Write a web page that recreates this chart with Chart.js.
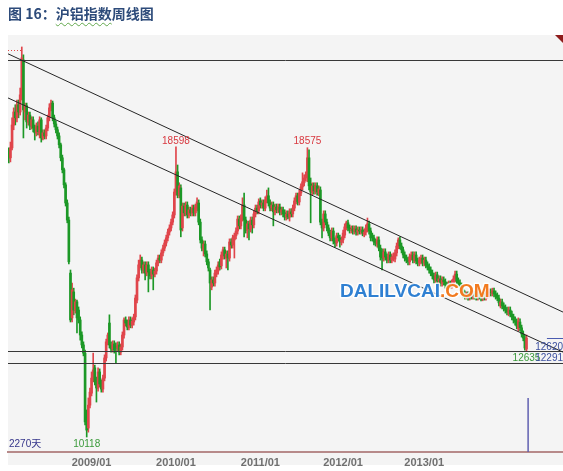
<!DOCTYPE html>
<html>
<head>
<meta charset="utf-8">
<script src="https://cdn.jsdelivr.net/npm/chart.js@4"></script>
<style>
  html, body { margin: 0; padding: 0; background: #ffffff; }
  #wrap { position: relative; width: 563px; height: 471px; overflow: hidden; }
  #c { position: absolute; left: 0; top: 0; }
  #title {
    position: absolute; left: 8px; top: 4px;
    font: 700 14px/18px "Noto Sans CJK SC", sans-serif;
    color: #2d4b7a; white-space: nowrap;
  }
  #title span {
    text-decoration: underline wavy #62a84c;
    text-decoration-thickness: 1px;
    text-underline-offset: 3px;
  }
</style>
</head>
<body>
<div id="wrap">
  <canvas id="c" width="563" height="471"></canvas>
  <div id="title">图 16：<span>沪铝指数</span>周线图</div>
</div>
<script>
// Weekly OHLC of the SHFE aluminium index, one entry per week starting Jan 2008
const weekOpen = [
  18510,18280,18570,19240,19620,19450,19830,19620,20120,21140,
  19620,19800,19330,19530,19210,19390,19150,19010,19210,18950,
  19390,18860,19010,18920,19150,19450,19740,19880,19450,19270,
  19100,18920,18660,18280,17930,17490,16960,16460,14910,13600,
  14360,13830,14070,13830,13540,13100,12810,12570,10670,10380,
  11050,11400,11840,12140,11790,11550,12020,11700,11520,11840,
  12430,12900,13450,12810,12690,12840,12780,12720,12810,12600,
  12750,13100,13540,13450,13330,13540,13390,13480,13630,14120,
  14770,15150,15290,15000,15150,14910,15150,14940,14830,15000,
  14880,14970,15210,15350,15290,15500,15640,15790,15940,16110,
  16230,16400,16610,17280,17870,17190,17400,16230,16870,16670,
  16900,16610,16760,16670,16810,16670,16810,16960,16400,15880,
  15590,15760,15470,15240,15000,14500,14710,14620,14880,14970,
  15240,15120,15410,15590,15350,15470,15350,15820,15730,15880,
  16000,16140,16490,16290,16520,16900,16460,16170,16350,16200,
  16460,16320,16640,16810,16730,17020,16900,16960,16810,17050,
  17170,16960,16810,16900,16700,16840,16760,16840,16700,16760,
  16670,16550,16640,16550,16700,16640,16810,17020,17170,16990,
  17250,17430,17550,17690,17750,18280,17520,17280,17460,17310,
  17460,17250,17340,16400,16230,16640,16400,16230,16080,15940,
  16140,15850,15790,16000,15940,15820,15880,16020,16260,16380,
  16230,16170,16200,16140,16200,16110,16170,16140,16170,16050,
  16110,16200,16350,16140,16000,15940,15820,15760,15880,15640,
  15530,15350,15530,15380,15290,15440,15290,15350,15320,15500,
  15700,15880,15700,15590,15440,15350,15290,15240,15380,15440,
  15290,15440,15260,15210,15260,15350,15210,15290,15150,15090,
  15000,14910,14830,14710,14860,14680,14740,14620,14710,14650,
  14560,14530,14590,14560,14620,14740,14880,14680,14620,14530,
  14420,14300,14240,14270,14210,14270,14240,14300,14240,14210,
  14270,14240,14180,14240,14210,14270,14300,14360,14330,14390,
  14300,14240,14180,13950,14070,13950,13890,13830,13740,13830,
  13710,13630,13540,13480,13280,13480,13310,13130,13010,12690
];
const weekHigh = [
  18570,18740,19450,19740,19830,19970,19970,20320,21520,21290,
  19880,19880,19620,19620,19480,19480,19240,19300,19330,19480,
  19450,19100,19100,19240,19530,19860,19970,19940,19530,19360,
  19180,19010,18710,18360,17980,17550,17050,16550,15000,14620,
  14470,14150,14120,13920,13630,13190,12900,12660,10910,11260,
  11550,12020,12570,12220,11870,12140,12110,11790,11930,12520,
  12980,13160,13690,12900,12930,12930,12870,12900,12900,12840,
  13190,13600,13630,13540,13630,13630,13600,13710,14270,14860,
  15290,15440,15380,15240,15240,15240,15240,15030,15090,15090,
  15060,15290,15440,15440,15590,15730,15880,16020,16200,16320,
  16490,16700,17370,18598,18070,17550,17490,16960,16960,16990,
  16990,16840,16840,16900,16900,16930,17110,17050,16490,15970,
  15850,15850,15560,15320,15060,14800,14800,15000,15090,15240,
  15320,15530,15670,15670,15560,15560,15910,15910,16020,16080,
  16230,16580,16580,16610,17110,17250,16550,16430,16430,16550,
  16550,16730,16900,16900,17080,17110,17050,17050,17140,17340,
  17400,17050,16990,16990,16930,16930,16930,16930,16840,16840,
  16760,16730,16730,16790,16790,16900,17110,17250,17250,17340,
  17520,17840,17780,17870,18575,18510,17690,17550,17550,17550,
  17550,17460,17430,16490,16730,16730,16490,16320,16170,16230,
  16230,15940,16080,16080,16020,15970,16170,16350,16430,16460,
  16320,16290,16290,16290,16290,16260,16260,16260,16260,16200,
  16320,16520,16430,16230,16080,16020,15910,15970,15970,15730,
  15620,15620,15620,15470,15530,15530,15470,15500,15590,15790,
  15940,15970,15790,15670,15530,15440,15380,15470,15530,15530,
  15530,15530,15350,15380,15440,15440,15380,15380,15240,15180,
  15090,15000,14910,14940,14940,14830,14830,14800,14800,14740,
  14650,14680,14680,14710,14830,14970,14970,14770,14710,14620,
  14500,14390,14360,14360,14360,14360,14390,14390,14330,14360,
  14360,14330,14330,14330,14360,14390,14450,14450,14470,14470,
  14390,14330,14270,14150,14150,14040,13980,13920,13920,13920,
  13800,13710,13630,13570,13600,13570,13390,13220,13100,13100
];
const weekLow = [
  18130,18160,18510,19100,19240,19330,19450,19530,19970,18860,
  19390,19150,19240,19100,19120,19040,18800,18920,18950,18860,
  18740,18800,18830,18830,19070,19360,19650,19360,19180,19010,
  18830,18570,18190,17840,17400,16870,16380,15180,13480,13480,
  13690,13740,13160,13450,12950,12720,12490,10470,10118,10260,
  10970,11320,11730,11640,11140,11460,11580,11430,11430,11760,
  12340,12810,12720,12600,12600,12570,12280,12640,12520,12520,
  12660,13010,13360,13250,13250,13310,13310,13390,13540,14040,
  14680,15060,14910,14910,14710,14830,14360,14740,14740,14420,
  14800,14880,15120,15210,15210,15410,15560,15700,15850,16020,
  16140,16320,16520,17190,17110,17110,15970,16140,16580,16580,
  16520,16520,16580,16580,16580,16580,16730,16320,15790,15560,
  15410,15380,15150,14970,13830,14420,14530,14530,14800,14880,
  15000,15030,15320,15320,15060,15000,15260,15640,15640,15350,
  15910,16050,16200,16200,16430,15970,16080,15940,15880,16110,
  16080,16230,16550,16640,16640,16810,16810,16730,16730,16960,
  16870,16730,16730,16290,16610,16670,16670,16610,16610,16550,
  16460,16460,16490,16430,16550,16550,16730,16930,16900,16900,
  17170,17340,17460,17600,17580,17340,16380,17190,17220,17220,
  17190,17170,16320,15940,16140,16320,16140,16000,15850,15850,
  15760,15670,15700,15850,15670,15730,15790,15940,16170,16140,
  16080,16080,16050,16050,16020,16020,16050,16050,16000,15970,
  16020,16110,16050,15850,15850,15730,15700,15670,15560,15290,
  15000,15260,15290,15210,15210,15210,15210,15260,15240,15410,
  15620,15620,15500,15350,15260,15210,15150,15150,15290,15210,
  15210,15180,15120,15120,15180,15120,15120,15060,15000,14910,
  14830,14740,14620,14620,14560,14590,14530,14530,14560,14470,
  14450,14450,14470,14470,14530,14650,14590,14530,14450,14330,
  14210,14150,14150,14120,14120,14150,14150,14150,14120,14120,
  14150,14100,14100,14120,14120,14180,14210,14240,14240,14210,
  14150,14100,13950,13890,13860,13800,13740,13690,13660,13630,
  13540,13450,13390,13280,13220,13220,13040,12930,12660,12635
];
const weekClose = [
  18280,18570,19240,19620,19450,19830,19620,20120,21200,19680,
  19800,19330,19530,19210,19390,19150,19010,19210,19040,19390,
  18860,19010,18920,19150,19450,19740,19880,19450,19270,19100,
  18920,18660,18280,17930,17490,16960,16460,15240,13540,14420,
  13830,14070,13600,13540,13100,12810,12570,10560,10320,11050,
  11430,11840,12080,11730,11550,12020,11670,11520,11840,12430,
  12900,13100,12810,12690,12840,12660,12720,12810,12600,12750,
  13100,13540,13450,13330,13540,13390,13510,13630,14180,14770,
  15150,15290,15000,15150,14910,15150,14940,14830,15000,14880,
  14970,15210,15350,15290,15500,15640,15790,15940,16110,16230,
  16400,16610,17280,17870,17190,17460,16170,16870,16670,16900,
  16610,16760,16670,16810,16670,16840,16990,16400,15880,15640,
  15760,15470,15240,15060,14620,14710,14620,14910,15000,15150,
  15090,15440,15590,15410,15470,15350,15820,15730,15940,16000,
  16140,16490,16290,16520,16900,16460,16170,16350,16200,16460,
  16320,16640,16810,16730,16990,16900,16960,16810,17050,17170,
  16960,16810,16900,16700,16840,16760,16840,16700,16760,16640,
  16550,16640,16550,16700,16640,16810,17020,17170,16990,17250,
  17430,17580,17690,17780,18280,17460,17280,17460,17310,17460,
  17280,17370,16400,16230,16640,16400,16230,16080,15940,16140,
  15850,15790,16000,15940,15820,15880,16080,16260,16380,16230,
  16170,16200,16140,16200,16110,16170,16140,16170,16080,16110,
  16230,16350,16140,15940,15940,15820,15790,15880,15640,15380,
  15350,15530,15380,15290,15440,15290,15380,15410,15500,15700,
  15880,15700,15590,15440,15350,15290,15240,15380,15440,15290,
  15440,15260,15210,15290,15350,15210,15290,15150,15090,15000,
  14910,14830,14710,14860,14680,14740,14620,14710,14650,14560,
  14530,14590,14560,14620,14740,14880,14680,14620,14530,14420,
  14300,14240,14270,14210,14270,14240,14300,14240,14210,14270,
  14240,14180,14240,14210,14270,14300,14360,14330,14390,14300,
  14240,14180,14040,14070,13950,13890,13830,13770,13830,13710,
  13630,13540,13480,13360,13510,13310,13130,13010,12720,13010
];

// Year labels on the time axis and the week slot each one sits over
const yearLabels = ['2009/01', '2010/01', '2011/01', '2012/01', '2013/01'];
const yearSlots = [51, 103, 155, 206, 256];

// Weeks whose extreme prices are annotated
const markedHighs = [103, 184];
const markedLows = [48, 319];

// Horizontal levels (price) and the descending channel (slot, price, slot, price)
const ceilingLevel = 21140;
const supportLevels = [12620, 12291];
const peakGuideLevel = 21430;
const channelLines = [
  [-0.5, 21320, 341.5, 13770],
  [-0.5, 20030, 341.5, 12600]
];
const cycleSlot = 320;
const cycleTop = 11260;
const cycleText = '2270天';
const totalSlots = 342;

const upColor = '#e0454b';
const downColor = '#1c9826';

const candleColor = (ctx) =>
  weekClose[ctx.dataIndex] >= weekOpen[ctx.dataIndex] ? upColor : downColor;

const wickData = weekHigh.map((h, i) => ({ x: i, y: [weekLow[i], h] }));
const bodyData = weekOpen.map((o, i) => ({ x: i, y: [o, weekClose[i]] }));

const overlay = {
  id: 'overlay',
  beforeDraw(chart) {
    const { ctx, chartArea: a } = chart;
    ctx.save();
    ctx.fillStyle = '#f4f4f4';
    ctx.fillRect(a.left, a.top, chart.width - a.left, 465 - a.top);
    ctx.fillStyle = '#8e1b1b';
    ctx.beginPath();
    ctx.moveTo(chart.width - 8, a.top);
    ctx.lineTo(chart.width, a.top);
    ctx.lineTo(chart.width, a.top + 8);
    ctx.closePath();
    ctx.fill();
    ctx.restore();
  },
  afterDatasetsDraw(chart) {
    const { ctx, chartArea: a, scales: { x, y } } = chart;
    const seg = (x0, y0, x1, y1) => { ctx.beginPath(); ctx.moveTo(x0, y0); ctx.lineTo(x1, y1); ctx.stroke(); };
    ctx.save();
    ctx.beginPath();
    ctx.rect(a.left, a.top, a.right - a.left, a.bottom - a.top);
    ctx.clip();

    // horizontal levels
    ctx.strokeStyle = '#383838';
    ctx.lineWidth = 1;
    [ceilingLevel, ...supportLevels].forEach(v => {
      const py = Math.round(y.getPixelForValue(v)) + 0.5;
      seg(a.left, py, a.right, py);
    });

    // descending channel
    ctx.strokeStyle = '#262626';
    channelLines.forEach(([s0, v0, s1, v1]) => {
      seg(x.getPixelForValue(s0), y.getPixelForValue(v0), x.getPixelForValue(s1), y.getPixelForValue(v1));
    });

    // dotted guide at the 2008 top
    ctx.strokeStyle = '#e04848';
    ctx.setLineDash([1, 2]);
    const gy = Math.round(y.getPixelForValue(peakGuideLevel)) + 0.5;
    seg(a.left, gy, x.getPixelForValue(8), gy);
    ctx.setLineDash([]);

    // last close marker at the right edge
    const last = weekClose.length - 1;
    ctx.strokeStyle = '#4a5bb0';
    const ly = Math.round(y.getPixelForValue(weekClose[last])) + 0.5;
    seg(x.getPixelForValue(331.6), ly, a.right, ly);

    // cycle marker
    ctx.strokeStyle = '#6060b0';
    ctx.lineWidth = 1.5;
    const cx = x.getPixelForValue(cycleSlot);
    seg(cx, y.getPixelForValue(cycleTop), cx, a.bottom);
    ctx.restore();

    // value annotations
    ctx.save();
    ctx.font = '10px "Liberation Sans Narrow", "Liberation Sans", sans-serif';
    ctx.textAlign = 'center';
    ctx.textBaseline = 'middle';
    ctx.fillStyle = '#d8383f';
    markedHighs.forEach(i => {
      ctx.fillText(String(weekHigh[i]), x.getPixelForValue(i), y.getPixelForValue(weekHigh[i]) - 6);
    });
    ctx.fillStyle = '#3a9a3a';
    markedLows.forEach(i => {
      ctx.fillText(String(weekLow[i]), x.getPixelForValue(i), y.getPixelForValue(weekLow[i]) + 7);
    });
    ctx.textAlign = 'right';
    ctx.fillStyle = '#3b4fa0';
    supportLevels.forEach(v => {
      ctx.fillText(String(v), a.right, y.getPixelForValue(v) - 4.5);
    });
    ctx.textAlign = 'left';
    ctx.fillStyle = '#35358a';
    ctx.font = '10px "Liberation Sans", "Noto Sans CJK SC", sans-serif';
    ctx.fillText(cycleText, a.left + 1, 444);
    ctx.restore();
  },
  afterDraw(chart) {
    const { ctx } = chart;
    ctx.save();
    ctx.font = 'bold 19px "Liberation Sans", Arial, sans-serif';
    ctx.textBaseline = 'alphabetic';
    ctx.textAlign = 'left';
    ctx.lineJoin = 'round';
    const left = 340, base = 297;
    const partA = 'DALILVCAI', partB = '.COM';
    const wA = ctx.measureText(partA).width;
    ctx.strokeStyle = 'rgba(255,255,255,0.85)';
    ctx.lineWidth = 3;
    ctx.strokeText(partA, left, base);
    ctx.strokeText(partB, left + wA, base);
    ctx.fillStyle = '#2f80d2';
    ctx.fillText(partA, left, base);
    ctx.fillStyle = '#f27a1f';
    ctx.fillText(partB, left + wA, base);
    ctx.restore();
  }
};

new Chart(document.getElementById('c'), {
  type: 'bar',
  data: {
    datasets: [
      {
        data: wickData,
        backgroundColor: candleColor,
        barThickness: 1,
        grouped: false,
        order: 2
      },
      {
        data: bodyData,
        backgroundColor: candleColor,
        barThickness: 2,
        minBarLength: 1,
        grouped: false,
        order: 1
      }
    ]
  },
  options: {
    responsive: false,
    animation: false,
    events: [],
    layout: { padding: { left: 8, right: 0, top: 35, bottom: 0 } },
    plugins: { legend: { display: false }, tooltip: { enabled: false } },
    scales: {
      x: {
        type: 'linear',
        min: -0.5,
        max: totalSlots - 0.5,
        offset: false,
        grid: { display: false, drawTicks: false },
        border: { display: true, color: '#b78a8a', width: 2 },
        ticks: {
          autoSkip: false,
          maxRotation: 0,
          padding: 4,
          color: '#707070',
          font: { family: '"Liberation Sans", Arial, sans-serif', size: 11, weight: 'bold' },
          callback: (v, i) => yearLabels[i]
        },
        afterBuildTicks: (axis) => { axis.ticks = yearSlots.map(v => ({ value: v })); },
        afterFit: (axis) => { axis.height = 19; }
      },
      y: {
        type: 'linear',
        display: false,
        min: 9680,
        max: 21870
      }
    }
  },
  plugins: [overlay]
});
</script>
</body>
</html>
